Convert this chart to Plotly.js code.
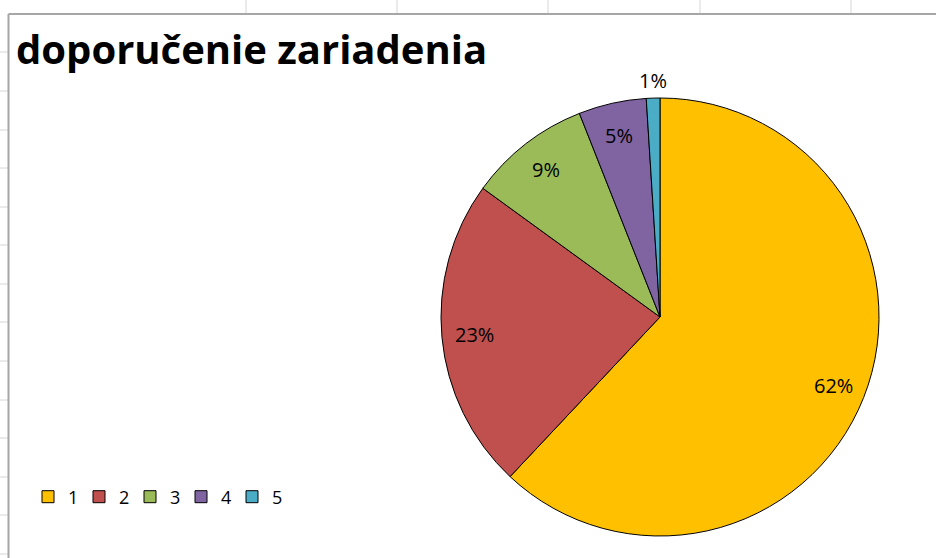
<!DOCTYPE html>
<html>
<head>
<meta charset="utf-8">
<script src="https://cdn.plot.ly/plotly-3.0.1.min.js"></script>
<style>html,body{margin:0;padding:0;background:#fff;}#chart{width:936px;height:558px;}</style>
</head>
<body>
<div id="chart"></div>
<script>
const categories = ["1", "2", "3", "4", "5"];
const shares = [62, 23, 9, 5, 1];
const sliceColors = ["#FFC000", "#C0504D", "#9BBB59", "#8064A2", "#4BACC6"];
const labelInside = [true, true, true, true, false];
const chartTitle = "doporučenie zariadenia";

const W = 936, H = 558;
const px = x => x / W;
const py = y => 1 - y / H;
const FONT = "'Open Sans', 'Noto Sans', sans-serif";

// spreadsheet gridlines around the chart object
const shapes = [];
const gridColor = "#d6d6d6";
[246, 397, 548, 700, 851].forEach(x => shapes.push({type: "line", xref: "paper", yref: "paper", x0: px(x), x1: px(x), y0: py(0), y1: py(14), line: {color: gridColor, width: 1}}));
[52, 91, 130, 168, 207, 245, 284, 322, 361, 400, 438, 477, 515, 554].forEach(y => shapes.push({type: "line", xref: "paper", yref: "paper", x0: px(0), x1: px(8), y0: py(y), y1: py(y), line: {color: gridColor, width: 1}}));
// chart frame
shapes.push({type: "line", xref: "paper", yref: "paper", x0: px(8.5), x1: px(8.5), y0: py(14), y1: py(558), line: {color: "#a6a6a6", width: 2}});
shapes.push({type: "line", xref: "paper", yref: "paper", x0: px(8.5), x1: px(936), y0: py(14), y1: py(14), line: {color: "#a6a6a6", width: 2}});

const r = 219, cx = 660, cy = 317;
const trace = {
  type: "pie",
  labels: categories,
  values: shares,
  sort: false,
  direction: "clockwise",
  rotation: 0,
  marker: {colors: sliceColors, line: {color: "#000000", width: 1}},
  textinfo: "none",
  hoverinfo: "label+percent",
  domain: {x: [px(cx - r), px(cx + r)], y: [py(cy + r), py(cy - r)]}
};

// data labels placed at each slice's mid-angle (Excel "best fit" style)
const total = shares.reduce((a, b) => a + b, 0);
const annotations = [];
let cum = 0;
shares.forEach((v, i) => {
  const mid = (cum + v / 2) / total * 2 * Math.PI;
  cum += v;
  const d = labelInside[i] ? 0.85 * r : 1.08 * r;
  annotations.push({
    xref: "paper", yref: "paper",
    x: px(cx + Math.sin(mid) * d), y: py(cy - Math.cos(mid) * d),
    text: Math.round(v / total * 100) + "%",
    showarrow: false, xanchor: "center", yanchor: "middle",
    font: {family: FONT, size: 20, color: "#000000"}
  });
});

const layout = {
  width: W, height: H,
  margin: {l: 0, r: 0, t: 0, b: 0},
  paper_bgcolor: "#ffffff",
  title: {text: "<b>" + chartTitle + "</b>", x: px(16), xanchor: "left", y: py(50), yanchor: "middle",
          font: {family: FONT, size: 40, color: "#000000"}},
  showlegend: true,
  legend: {orientation: "h", x: px(28), xanchor: "left", y: py(497), yanchor: "middle",
           font: {family: FONT, size: 18, color: "#000000"},
           traceorder: "normal", itemwidth: 30, entrywidth: 6, bgcolor: "rgba(0,0,0,0)"},
  annotations: annotations,
  shapes: shapes
};

Plotly.newPlot("chart", [trace], layout, {displayModeBar: false, staticPlot: true});
</script>
</body>
</html>
